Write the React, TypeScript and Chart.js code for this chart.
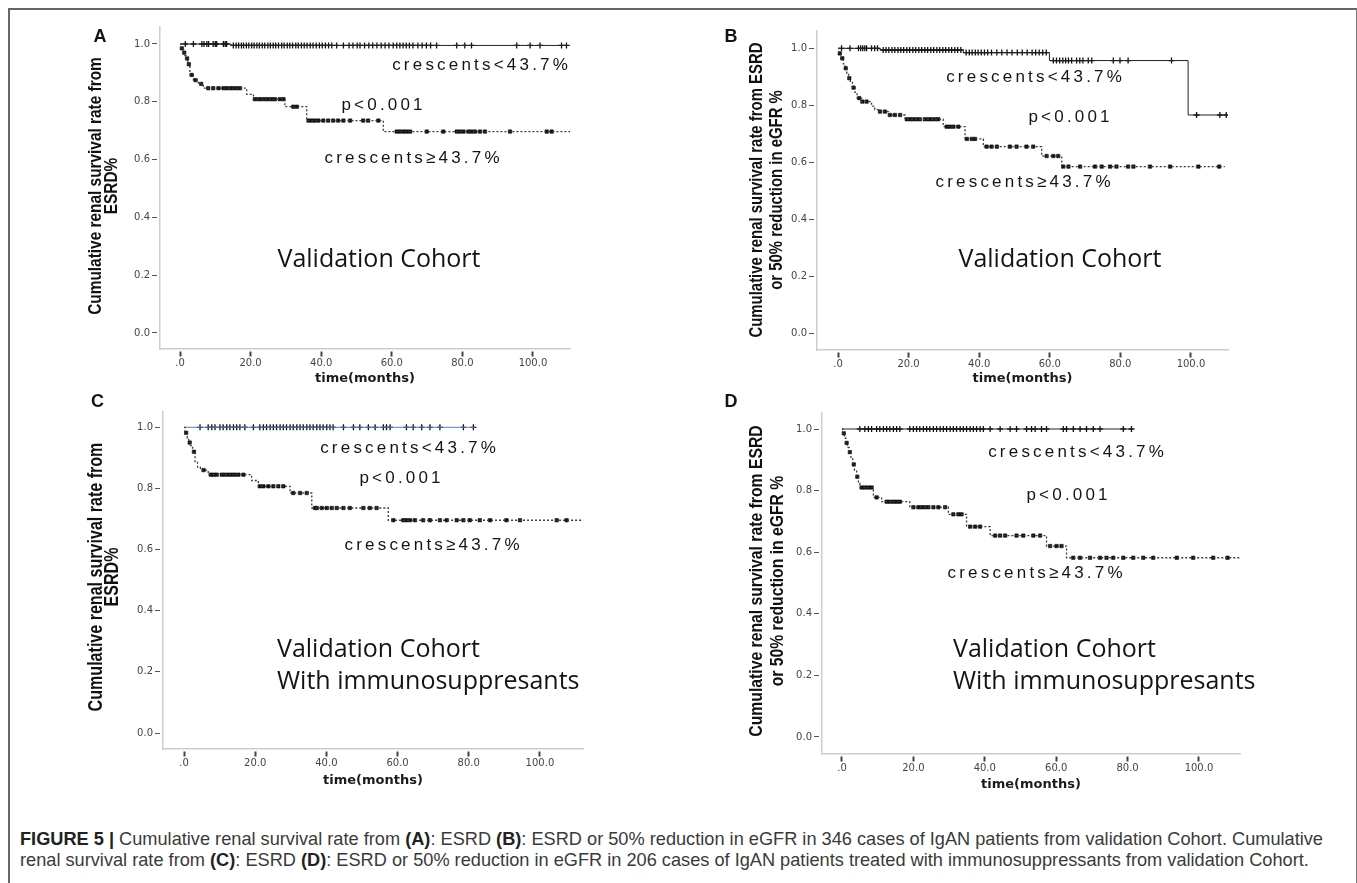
import React, { useEffect, useRef } from "react";
import { Chart, registerables } from "chart.js";
Chart.register(...registerables);

// ---------- tick data ----------
const X_TICKS = [0, 20, 40, 60, 80, 100];
const X_TICK_LABELS = [".0", "20.0", "40.0", "60.0", "80.0", "100.0"];
const Y_TICKS = [0, 0.2, 0.4, 0.6, 0.8, 1.0];
const Y_TICK_LABELS = ["0.0", "0.2", "0.4", "0.6", "0.8", "1.0"];

// ---------- Panel A (ESRD, validation cohort) ----------
const A_LOW_T = [0.3, 1.0, 1.3, 1.7, 2.2, 2.8, 3.8, 5.2, 6.6, 18.9, 20.8, 29.7, 35.9, 57.6];
const A_LOW_S = [0.985, 0.97, 0.96, 0.95, 0.93, 0.893, 0.875, 0.862, 0.847, 0.826, 0.809, 0.783, 0.735, 0.697];
const A_LOW_END = 110.5;
const A_LOW_CENS = [0.5, 1.2, 2.0, 2.5, 3.3, 4.4, 6.0, 8.0, 9.4, 10.9, 12.3, 13.2, 14.2, 15.1, 16.1, 17.0, 21.2, 22.2, 23.1, 24.1, 25.0, 26.0, 26.9, 28.3, 29.3, 32.1, 33.1, 36.4, 37.3, 38.2, 39.2, 40.6, 42.0, 43.4, 44.8, 46.3, 48.2, 51.9, 53.3, 56.2, 61.4, 62.3, 63.3, 64.2, 65.2, 69.9, 74.6, 78.4, 79.3, 80.3, 81.7, 82.6, 83.6, 85.0, 86.4, 93.5, 103.9, 105.3];
const A_HIGH_T = [14.5];
const A_HIGH_S = [0.995];
const A_HIGH_END = 110.5;
const A_HIGH_CENS = [1.5, 3.8, 6.2, 6.8, 7.6, 8.1, 9.4, 10.0, 10.4, 12.3, 12.8, 13.2, 15.1, 15.9, 16.6, 17.4, 18.0, 18.8, 19.5, 20.3, 21.0, 21.8, 22.5, 23.3, 24.0, 24.9, 25.6, 26.4, 27.1, 27.9, 28.8, 29.5, 30.4, 31.1, 31.9, 32.8, 33.5, 34.4, 35.2, 36.0, 36.9, 37.7, 38.6, 39.5, 40.3, 41.2, 42.1, 43.0, 44.4, 46.3, 47.9, 49.0, 50.2, 51.0, 52.3, 53.5, 54.6, 55.8, 57.0, 58.1, 59.2, 60.4, 61.4, 62.3, 63.2, 64.1, 65.0, 66.0, 67.4, 68.6, 69.8, 71.0, 72.7, 78.4, 80.7, 82.6, 95.4, 99.2, 102.0, 108.1, 109.5];

// ---------- Panel B (ESRD or 50% eGFR reduction, validation cohort) ----------
const B_LOW_T = [0.3, 0.8, 1.5, 2.0, 2.5, 3.0, 3.5, 4.1, 4.8, 5.4, 6.7, 9.5, 10.4, 11.4, 14.3, 19.0, 29.8, 36.0, 41.2, 57.7, 63.4];
const B_LOW_S = [0.982, 0.965, 0.945, 0.93, 0.912, 0.895, 0.88, 0.862, 0.845, 0.825, 0.813, 0.797, 0.785, 0.778, 0.766, 0.751, 0.725, 0.682, 0.655, 0.622, 0.585];
const B_LOW_END = 109.6;
const B_LOW_CENS = [0.5, 1.2, 2.2, 3.2, 4.4, 6.0, 6.9, 8.1, 11.9, 13.3, 14.7, 16.1, 17.6, 19.5, 20.4, 21.3, 22.3, 23.2, 24.6, 25.6, 26.5, 27.5, 28.4, 30.8, 31.7, 32.7, 34.1, 36.5, 37.9, 38.8, 42.1, 43.5, 45.0, 48.7, 50.6, 53.4, 55.3, 59.1, 61.0, 62.4, 63.8, 65.3, 68.6, 72.8, 74.7, 77.1, 78.9, 82.2, 83.7, 88.4, 94.1, 102.1, 108.0];
const B_HIGH_T = [11.9, 35.5, 59.9, 99.2];
const B_HIGH_S = [0.994, 0.985, 0.957, 0.766];
const B_HIGH_END = 110.3;
const B_HIGH_CENS = [1.0, 3.4, 5.8, 6.4, 7.0, 7.6, 8.1, 9.5, 10.4, 11.2, 12.8, 13.6, 14.4, 15.3, 16.1, 17.0, 17.8, 18.6, 19.5, 20.3, 21.2, 22.0, 22.9, 23.7, 24.6, 25.4, 26.3, 27.1, 28.0, 28.8, 29.7, 30.5, 31.4, 32.2, 33.1, 33.9, 34.8, 36.3, 37.2, 38.0, 38.9, 39.7, 40.6, 41.5, 42.4, 43.5, 45.0, 46.4, 47.9, 49.3, 50.8, 52.2, 53.6, 55.0, 56.0, 57.0, 58.0, 59.0, 61.0, 61.9, 62.8, 63.7, 64.5, 65.3, 66.2, 67.6, 68.5, 69.4, 70.9, 71.9, 78.0, 79.9, 82.2, 94.5, 101.6, 108.2, 110.0];

// ---------- Panel C (ESRD, with immunosuppressants) ----------
const C_LOW_T = [0.3, 0.9, 1.3, 1.8, 2.4, 3.1, 3.8, 4.6, 6.8, 19.0, 20.9, 29.8, 35.9, 57.4];
const C_LOW_S = [0.982, 0.965, 0.95, 0.94, 0.92, 0.888, 0.87, 0.86, 0.845, 0.826, 0.807, 0.785, 0.736, 0.696];
const C_LOW_END = 112.0;
const C_LOW_CENS = [0.6, 1.6, 2.8, 5.5, 7.5, 8.3, 9.2, 10.6, 11.5, 12.5, 13.4, 14.3, 15.3, 16.7, 21.3, 22.3, 23.7, 25.1, 26.5, 27.9, 30.7, 32.6, 34.5, 36.8, 37.3, 38.7, 40.1, 41.5, 42.9, 44.8, 46.6, 50.4, 52.2, 54.1, 58.8, 61.6, 62.5, 63.5, 64.9, 67.2, 69.1, 71.9, 73.8, 76.6, 78.5, 80.3, 83.1, 86.0, 90.6, 94.4, 104.7, 107.5];
const C_HIGH_T: number[] = [];
const C_HIGH_S: number[] = [];
const C_HIGH_END = 81.7;
const C_HIGH_CENS = [4.5, 6.8, 7.8, 8.7, 10.1, 11.0, 12.0, 12.9, 13.9, 14.8, 15.7, 17.1, 19.5, 21.3, 22.3, 23.2, 24.2, 25.1, 26.0, 27.0, 27.9, 28.8, 29.8, 30.7, 31.7, 32.6, 33.5, 34.5, 35.4, 36.3, 37.3, 38.2, 39.1, 40.1, 41.0, 41.9, 44.8, 47.6, 49.4, 51.8, 53.7, 56.0, 56.9, 57.9, 62.5, 64.4, 66.8, 69.1, 71.9, 78.5, 81.3];

// ---------- Panel D (ESRD or 50% eGFR reduction, with immunosuppressants) ----------
const D_LOW_T = [0.2, 0.7, 1.1, 1.5, 2.0, 2.5, 3.0, 3.5, 4.1, 4.6, 5.0, 8.8, 11.1, 19.0, 29.8, 34.9, 41.5, 57.3, 62.9];
const D_LOW_S = [0.986, 0.97, 0.955, 0.94, 0.925, 0.905, 0.885, 0.867, 0.845, 0.824, 0.81, 0.778, 0.764, 0.746, 0.723, 0.683, 0.654, 0.62, 0.582];
const D_LOW_END = 111.5;
const D_LOW_CENS = [0.5, 1.3, 2.2, 3.3, 4.3, 5.5, 6.4, 7.4, 8.3, 9.7, 12.5, 13.4, 14.4, 15.3, 16.2, 20.0, 21.4, 22.3, 23.2, 24.2, 25.6, 27.0, 28.9, 31.2, 32.6, 33.5, 35.9, 37.3, 38.7, 42.9, 44.3, 45.7, 48.9, 50.8, 53.6, 55.5, 58.3, 60.1, 61.5, 64.8, 66.7, 69.5, 72.3, 74.1, 76.0, 78.8, 81.6, 84.4, 87.2, 93.8, 98.4, 104.0, 108.0];
const D_HIGH_T: number[] = [];
const D_HIGH_S: number[] = [];
const D_HIGH_END = 81.5;
const D_HIGH_CENS = [5.0, 6.4, 7.4, 8.3, 9.7, 10.6, 11.6, 12.5, 13.4, 14.4, 15.3, 16.2, 19.0, 20.0, 20.9, 21.8, 22.8, 23.7, 24.6, 25.6, 26.5, 27.5, 28.4, 29.3, 30.3, 31.2, 32.1, 33.1, 34.0, 34.9, 35.9, 36.8, 37.7, 38.7, 39.6, 41.5, 44.3, 47.1, 48.9, 51.7, 53.1, 54.1, 55.9, 57.3, 62.0, 62.9, 64.8, 66.7, 68.5, 70.4, 72.3, 78.8, 81.1];

// ---------- text ----------
const HIGH_LABEL = "crescents<43.7%";
const LOW_LABEL = "crescents\u226543.7%";
const P_LABEL = "p<0.001";
const X_TITLE = "time(months)";
const Y_TITLE_ESRD = ["Cumulative renal survival rate from", "ESRD%"];
const Y_TITLE_EGFR = ["Cumulative renal survival rate from ESRD", "or 50% reduction in eGFR %"];
const COHORT_1 = "Validation Cohort";
const COHORT_2 = "With immunosuppresants";

// ---------- fonts ----------
const SANS = "'Liberation Sans', Arial, sans-serif";
const TICKFONT = "'DejaVu Sans', sans-serif";
const COHORT = "'Open Sans', 'Noto Sans', sans-serif";

type Pt = { x: number; y: number };
function stepData(times: number[], surv: number[], end: number): Pt[] {
  const pts: Pt[] = [{ x: 0, y: 1 }];
  times.forEach((t, i) => pts.push({ x: t, y: surv[i] }));
  pts.push({ x: end, y: surv.length ? surv[surv.length - 1] : 1 });
  return pts;
}
function survAt(times: number[], surv: number[], t: number) {
  let s = 1;
  for (let i = 0; i < times.length; i++) if (times[i] <= t) s = surv[i];
  return s;
}
function censorData(times: number[], surv: number[], cens: number[]): Pt[] {
  return cens.map((t) => ({ x: t, y: survAt(times, surv, t) }));
}

type TextItem = { text: string; x: number; y: number; font: string; align?: CanvasTextAlign; spacing?: number; color?: string };

type Panel = {
  left: number; top: number; width: number; height: number;
  area: { left: number; top: number; right: number; bottom: number };
  xMin: number; xMax: number; yMin: number; yMax: number;
  yTitle: string[]; yTitleSize: number; yTitleBase: number[]; yTitleCY: number; xTitleY: number;
  low: { t: number[]; s: number[]; end: number; c: number[] };
  high: { t: number[]; s: number[]; end: number; c: number[] };
  highColor: string;
  texts: TextItem[];
};

const LBL = `17px ${SANS}`;
const SP = 3.2;
const LETTER = `bold 18px ${SANS}`;
const COH = `25px ${COHORT}`;

const PANELS: Panel[] = [
  {
    left: 60, top: 15, width: 520, height: 375,
    area: { left: 160, top: 27, right: 570, bottom: 349 },
    xMin: -5.67, xMax: 110.5, yMin: -0.0554, yMax: 1.0588,
    yTitle: Y_TITLE_ESRD, yTitleSize: 18.8, yTitleBase: [101, 116.5], yTitleCY: 186, xTitleY: 379,
    low: { t: A_LOW_T, s: A_LOW_S, end: A_LOW_END, c: A_LOW_CENS },
    high: { t: A_HIGH_T, s: A_HIGH_S, end: A_HIGH_END, c: A_HIGH_CENS },
    highColor: "#222",
    texts: [
      { text: "A", x: 100, y: 42, font: LETTER, align: "center" },
      { text: HIGH_LABEL, x: 480, y: 70, font: LBL, align: "center", spacing: SP },
      { text: P_LABEL, x: 382, y: 110, font: LBL, align: "center", spacing: SP },
      { text: LOW_LABEL, x: 412, y: 163, font: LBL, align: "center", spacing: SP },
      { text: COHORT_1, x: 379, y: 267, font: COH, align: "center" },
    ],
  },
  {
    left: 680, top: 15, width: 560, height: 375,
    area: { left: 817, top: 31, right: 1228, bottom: 350 },
    xMin: -5.95, xMax: 110.5, yMin: -0.0586, yMax: 1.0607,
    yTitle: Y_TITLE_EGFR, yTitleSize: 18.2, yTitleBase: [762, 782], yTitleCY: 190, xTitleY: 379,
    low: { t: B_LOW_T, s: B_LOW_S, end: B_LOW_END, c: B_LOW_CENS },
    high: { t: B_HIGH_T, s: B_HIGH_S, end: B_HIGH_END, c: B_HIGH_CENS },
    highColor: "#222",
    texts: [
      { text: "B", x: 731, y: 42, font: LETTER, align: "center" },
      { text: HIGH_LABEL, x: 1034, y: 82, font: LBL, align: "center", spacing: SP },
      { text: P_LABEL, x: 1069, y: 122, font: LBL, align: "center", spacing: SP },
      { text: LOW_LABEL, x: 1023, y: 187, font: LBL, align: "center", spacing: SP },
      { text: COHORT_1, x: 1060, y: 267, font: COH, align: "center" },
    ],
  },
  {
    left: 60, top: 390, width: 540, height: 405,
    area: { left: 163, top: 412, right: 583, bottom: 749 },
    xMin: -5.9, xMax: 112.1, yMin: -0.0523, yMax: 1.05,
    yTitle: Y_TITLE_ESRD, yTitleSize: 19.6, yTitleBase: [102, 118], yTitleCY: 577, xTitleY: 781,
    low: { t: C_LOW_T, s: C_LOW_S, end: C_LOW_END, c: C_LOW_CENS },
    high: { t: C_HIGH_T, s: C_HIGH_S, end: C_HIGH_END, c: C_HIGH_CENS },
    highColor: "#5b7cc4",
    texts: [
      { text: "C", x: 97.5, y: 407, font: LETTER, align: "center" },
      { text: HIGH_LABEL, x: 408, y: 453, font: LBL, align: "center", spacing: SP },
      { text: P_LABEL, x: 400, y: 483, font: LBL, align: "center", spacing: SP },
      { text: LOW_LABEL, x: 432, y: 550, font: LBL, align: "center", spacing: SP },
      { text: COHORT_1, x: 277, y: 657, font: COH, align: "left" },
      { text: COHORT_2, x: 277, y: 689, font: COH, align: "left" },
    ],
  },
  {
    left: 680, top: 390, width: 580, height: 405,
    area: { left: 822, top: 413, right: 1240, bottom: 754 },
    xMin: -5.6, xMax: 111.5, yMin: -0.0552, yMax: 1.052,
    yTitle: Y_TITLE_EGFR, yTitleSize: 19.2, yTitleBase: [762, 783], yTitleCY: 581, xTitleY: 785,
    low: { t: D_LOW_T, s: D_LOW_S, end: D_LOW_END, c: D_LOW_CENS },
    high: { t: D_HIGH_T, s: D_HIGH_S, end: D_HIGH_END, c: D_HIGH_CENS },
    highColor: "#222",
    texts: [
      { text: "D", x: 731, y: 407, font: LETTER, align: "center" },
      { text: HIGH_LABEL, x: 1076, y: 457, font: LBL, align: "center", spacing: SP },
      { text: P_LABEL, x: 1067, y: 500, font: LBL, align: "center", spacing: SP },
      { text: LOW_LABEL, x: 1035, y: 578, font: LBL, align: "center", spacing: SP },
      { text: COHORT_1, x: 953, y: 657, font: COH, align: "left" },
      { text: COHORT_2, x: 953, y: 689, font: COH, align: "left" },
    ],
  },
];

function KMPanel({ p }: { p: Panel }) {
  const ref = useRef<HTMLCanvasElement>(null);
  useEffect(() => {
    const canvas = ref.current;
    if (!canvas) return;
    const textPlugin = {
      id: "panelText",
      afterDraw(chart: any) {
        const ctx: CanvasRenderingContext2D = chart.ctx;
        for (const it of p.texts) {
          ctx.save();
          ctx.font = it.font;
          ctx.fillStyle = it.color || "#141414";
          ctx.textAlign = it.align || "left";
          ctx.textBaseline = "alphabetic";
          const sp = it.spacing || 0;
          (ctx as any).letterSpacing = sp + "px";
          let x = it.x - p.left;
          if (sp && it.align === "center") x += sp / 2;
          ctx.fillText(it.text, x, it.y - p.top);
          ctx.restore();
        }
        // y-axis title, narrow bold (horizontally condensed Liberation Sans Bold)
        p.yTitle.forEach((line, i) => {
          ctx.save();
          ctx.translate(p.yTitleBase[i] - p.left, p.yTitleCY - p.top);
          ctx.rotate(-Math.PI / 2);
          ctx.scale(0.82, 1);
          ctx.font = `bold ${p.yTitleSize}px ${SANS}`;
          ctx.fillStyle = "#111";
          ctx.textAlign = "center";
          ctx.textBaseline = "alphabetic";
          ctx.fillText(line, 0, 0);
          ctx.restore();
        });
      },
    };
    const chart = new Chart(canvas, {
      type: "line",
      data: {
        datasets: [
          {
            data: stepData(p.low.t, p.low.s, p.low.end) as any,
            stepped: "before",
            borderColor: "#3a3a3a",
            borderWidth: 1.3,
            borderDash: [2, 2],
            pointRadius: 0,
            fill: false,
          },
          {
            data: censorData(p.low.t, p.low.s, p.low.c) as any,
            showLine: false,
            pointStyle: "rect",
            pointRadius: 2.4,
            pointBorderWidth: 0.6,
            pointBorderColor: "#111",
            pointBackgroundColor: "#111",
          },
          {
            data: stepData(p.high.t, p.high.s, p.high.end) as any,
            stepped: "before",
            borderColor: p.highColor,
            borderWidth: 1,
            pointRadius: 0,
            fill: false,
          },
          {
            data: censorData(p.high.t, p.high.s, p.high.c) as any,
            showLine: false,
            pointStyle: "cross",
            pointRadius: 3,
            pointBorderWidth: 1.3,
            pointBorderColor: "#111",
            pointBackgroundColor: "#111",
          },
        ],
      },
      options: {
        animation: false,
        responsive: false,
        maintainAspectRatio: false,
        events: [],
        layout: { padding: { left: 0, top: p.area.top - p.top, right: p.left + p.width - p.area.right, bottom: 0 } },
        plugins: { legend: { display: false }, tooltip: { enabled: false } },
        scales: {
          x: {
            type: "linear",
            min: p.xMin,
            max: p.xMax,
            afterBuildTicks: (s: any) => { s.ticks = X_TICKS.map((v) => ({ value: v })); },
            afterFit: (s: any) => { s.height = p.top + p.height - p.area.bottom; },
            grid: { display: true, drawOnChartArea: false, drawTicks: true, tickLength: 8, tickWidth: 2, tickColor: "#444", tickBorderDash: [0, 2, 5, 30] },
            border: { display: true, color: "#cdcdcd", width: 1.5 },
            ticks: {
              autoSkip: false, maxRotation: 0, padding: 0, color: "#444",
              font: { family: TICKFONT, size: 10 },
              callback: (v: any) => { const i = X_TICKS.indexOf(Number(v)); return i >= 0 ? X_TICK_LABELS[i] : ""; },
            },
            title: {
              display: true, text: X_TITLE, color: "#1a1a1a",
              font: { family: TICKFONT, size: 13, weight: "bold", lineHeight: "14px" },
              padding: { top: 0, bottom: p.top + p.height - p.xTitleY - 7 },
            },
          },
          y: {
            type: "linear",
            min: p.yMin,
            max: p.yMax,
            afterBuildTicks: (s: any) => { s.ticks = Y_TICKS.map((v) => ({ value: v })); },
            afterFit: (s: any) => { s.width = p.area.left - p.left; },
            grid: { display: true, drawOnChartArea: false, drawTicks: true, tickLength: 8, tickWidth: 1, tickColor: "#555", tickBorderDash: [5, 30] },
            border: { display: true, color: "#cdcdcd", width: 1.5 },
            ticks: {
              autoSkip: false, padding: 2, color: "#444",
              font: { family: TICKFONT, size: 10 },
              callback: (v: any) => { const i = Y_TICKS.indexOf(Number(v)); return i >= 0 ? Y_TICK_LABELS[i] : ""; },
            },
            title: { display: false },
          },
        },
      } as any,
      plugins: [textPlugin],
    });
    return () => chart.destroy();
  }, [p]);
  return (
    <canvas
      ref={ref}
      width={p.width}
      height={p.height}
      style={{ position: "absolute", left: p.left, top: p.top, width: p.width, height: p.height }}
    />
  );
}

const CAPTION_1_BOLD = "FIGURE 5 |";
const CAPTION_1 = [" Cumulative renal survival rate from ", "(A)", ": ESRD ", "(B)", ": ESRD or 50% reduction in eGFR in 346 cases of IgAN patients from validation Cohort. Cumulative"];
const CAPTION_2 = ["renal survival rate from ", "(C)", ": ESRD ", "(D)", ": ESRD or 50% reduction in eGFR in 206 cases of IgAN patients treated with immunosuppressants from validation Cohort."];

function CaptionLine({ parts, top, boldFirst }: { parts: string[]; top: number; boldFirst?: string }) {
  return (
    <div style={{ position: "absolute", left: 20, top, whiteSpace: "nowrap", fontFamily: SANS, fontSize: 18.2, lineHeight: "20px", color: "#3a3a3a" }}>
      {boldFirst ? <b style={{ color: "#222" }}>{boldFirst}</b> : null}
      {parts.map((s, i) => (i % 2 === 1 ? <b key={i} style={{ color: "#222" }}>{s}</b> : <span key={i}>{s}</span>))}
    </div>
  );
}

export default function App() {
  return (
    <div style={{ position: "absolute", left: 0, top: 0, width: 1357, height: 883, overflow: "hidden", background: "#fff" }}>
      <div style={{ position: "absolute", left: 8, top: 8, width: 1346, height: 900, borderTop: "2px solid #666", borderLeft: "2px solid #666", borderRight: "2px solid #777" }} />
      {PANELS.map((p, i) => <KMPanel key={i} p={p} />)}
      <CaptionLine parts={CAPTION_1} top={829} boldFirst={CAPTION_1_BOLD} />
      <CaptionLine parts={CAPTION_2} top={850} />
    </div>
  );
}
